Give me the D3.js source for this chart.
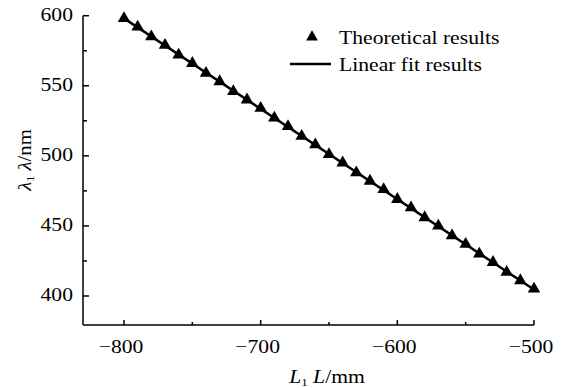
<!DOCTYPE html>
<html>
<head>
<meta charset="utf-8">
<script src="https://cdn.jsdelivr.net/npm/d3@7"></script>
<style>
  body { margin: 0; background: #fff; }
  text { font-family: "Liberation Serif", "Times New Roman", serif; fill: #000; }
</style>
</head>
<body>
<div id="chart"></div>
<script>
// distance L (mm)
const lengths = d3.range(-800, -499, 10);
// theoretical wavelength (nm)
const wavelengths = [598, 592, 585, 579, 572, 566, 559, 553, 546, 540, 534,
  527, 521, 514, 508, 501, 495, 488, 482, 476, 469,
  463, 456, 450, 443, 437, 430, 424, 417, 411, 405];
const xTicks = [-800, -700, -600, -500];
const xMinor = [-750, -650, -550];
const yTicks = [400, 450, 500, 550, 600];
const yMinor = [425, 475, 525, 575];
const legendLabels = ['Theoretical results', 'Linear fit results'];

const width = 569, height = 388;
const fs = 18.5, stretch = 1.17; // source picture text is a bit wide
const svg = d3.select('#chart').append('svg')
  .attr('width', width)
  .attr('height', height);

// text placed at (px,py), stretched horizontally
function label(px, py, anchor, rot) {
  return svg.append('g')
    .attr('transform', `translate(${px},${py})` + (rot ? ` rotate(${rot})` : '') + ` scale(${stretch},1)`)
    .append('text')
    .attr('text-anchor', anchor)
    .attr('font-size', fs);
}

// scales
const x = d3.scaleLinear().domain([-830, -500]).range([83, 534]);
const y = d3.scaleLinear().domain([379.3, 600]).range([325, 15.7]);

const pts = lengths.map((l, i) => ({ l: l, w: wavelengths[i] }));

// least squares fit
const mx = d3.mean(pts, d => d.l), my = d3.mean(pts, d => d.w);
const slope = d3.sum(pts, d => (d.l - mx) * (d.w - my)) / d3.sum(pts, d => (d.l - mx) ** 2);
const icpt = my - slope * mx;

// axes
const axes = svg.append('g').attr('stroke', '#000').attr('stroke-width', 1.5);
axes.append('line').attr('x1', x(-830)).attr('x2', x(-500)).attr('y1', y(379.3)).attr('y2', y(379.3));
axes.append('line').attr('x1', x(-830)).attr('x2', x(-830)).attr('y1', y(379.3)).attr('y2', y(600));

xTicks.forEach(t => axes.append('line').attr('x1', x(t)).attr('x2', x(t)).attr('y1', y(379.3)).attr('y2', y(379.3) - 5));
xMinor.forEach(t => axes.append('line').attr('x1', x(t)).attr('x2', x(t)).attr('y1', y(379.3)).attr('y2', y(379.3) - 3));
yTicks.forEach(t => axes.append('line').attr('x1', x(-830)).attr('x2', x(-830) + 6).attr('y1', y(t)).attr('y2', y(t)));
yMinor.forEach(t => axes.append('line').attr('x1', x(-830)).attr('x2', x(-830) + 4).attr('y1', y(t)).attr('y2', y(t)));

xTicks.forEach(t => label(x(t) - 3, 353, 'middle').text('\u2212' + Math.abs(t)));
yTicks.forEach(t => label(73, y(t) + 5, 'end').text(t));

// axis titles
const xt = label(327, 383, 'middle');
xt.append('tspan').attr('font-style', 'italic').text('L');
xt.append('tspan').attr('font-size', 11).attr('dy', 3).text('1');
xt.append('tspan').attr('dy', -3).text(' ');
xt.append('tspan').attr('font-style', 'italic').text('L');
xt.append('tspan').text('/mm');

const yt = svg.append('g')
  .attr('transform', 'translate(31,160) rotate(-90) scale(1.12,1)')
  .append('text')
  .attr('text-anchor', 'middle')
  .attr('font-size', fs);
yt.append('tspan').attr('font-style', 'italic').text('\u03bb');
yt.append('tspan').attr('font-size', 11).attr('dy', 3).text('1');
yt.append('tspan').attr('dy', -3).text(' ');
yt.append('tspan').attr('font-style', 'italic').text('\u03bb');
yt.append('tspan').text('/nm');

// fit line
svg.append('line')
  .attr('x1', x(-800)).attr('y1', y(icpt + slope * -800))
  .attr('x2', x(-500)).attr('y2', y(icpt + slope * -500))
  .attr('stroke', '#000').attr('stroke-width', 2.5);

// markers
const tri = d3.symbol().type(d3.symbolTriangle).size(68);
svg.append('g').selectAll('path').data(pts).enter().append('path')
  .attr('d', tri)
  .attr('transform', d => `translate(${x(d.l)},${y(d.w)})`)
  .attr('fill', '#000');

// legend
svg.append('path').attr('d', d3.symbol().type(d3.symbolTriangle).size(60))
  .attr('transform', 'translate(312,37)').attr('fill', '#000');
svg.append('line').attr('x1', 290).attr('x2', 331).attr('y1', 64).attr('y2', 64)
  .attr('stroke', '#000').attr('stroke-width', 2.5);
legendLabels.forEach((d, i) => label(339, 44 + i * 27, 'start').text(d));
</script>
</body>
</html>
